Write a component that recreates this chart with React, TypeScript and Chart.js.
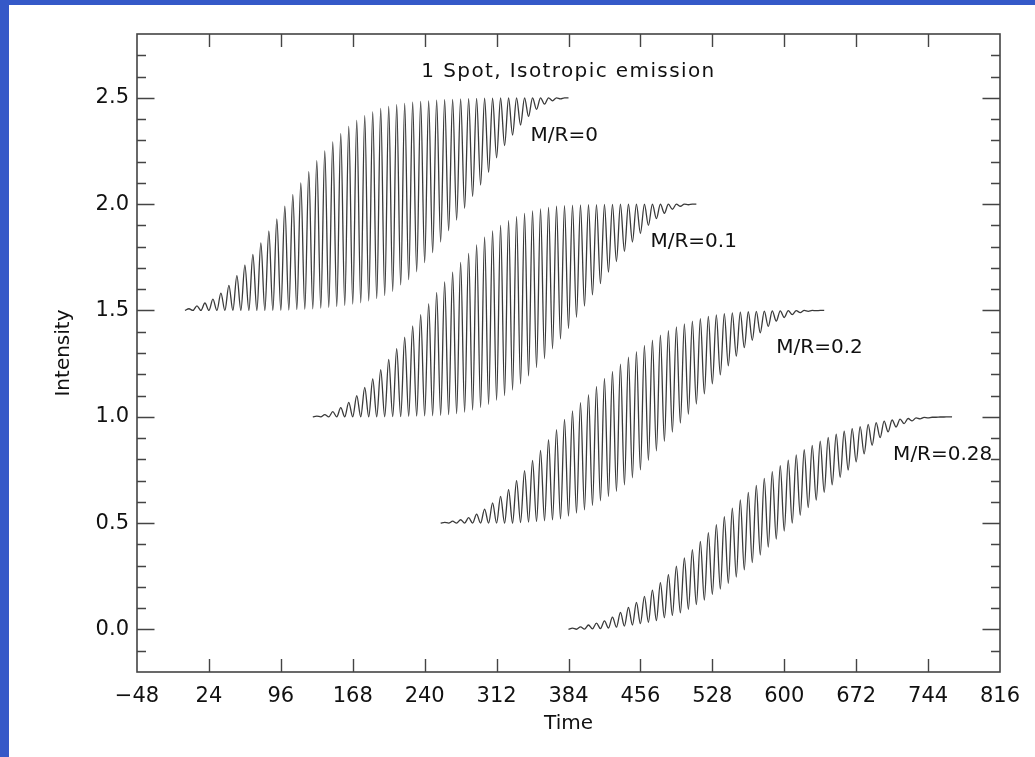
import React, { useEffect, useRef } from 'react';
import { Chart, registerables } from 'chart.js';

Chart.register(...registerables);

// ---------------- data ----------------
const chartTitle = '1 Spot, Isotropic emission';
const seriesNames = ['M/R=0', 'M/R=0.1', 'M/R=0.2', 'M/R=0.28'];
const seriesStart = [0, 128, 256, 384];
const pulsePeriod = 8;

// M/R = 0
const peaks0 = [1.508, 1.522, 1.535, 1.553, 1.582, 1.618, 1.664, 1.713, 1.764, 1.818, 1.874, 1.930, 1.990, 2.046, 2.100, 2.153, 2.205, 2.250, 2.293, 2.332, 2.365, 2.394, 2.416, 2.434, 2.450, 2.460, 2.468, 2.474, 2.479, 2.483, 2.486, 2.489, 2.491, 2.493, 2.495, 2.496, 2.497, 2.498, 2.498, 2.499, 2.499, 2.500, 2.500, 2.500, 2.500, 2.500, 2.500, 2.500];
const troughs0 = [1.500, 1.500, 1.500, 1.500, 1.500, 1.500, 1.500, 1.500, 1.500, 1.500, 1.500, 1.500, 1.500, 1.502, 1.504, 1.506, 1.508, 1.511, 1.515, 1.519, 1.524, 1.530, 1.536, 1.545, 1.556, 1.570, 1.590, 1.620, 1.645, 1.682, 1.725, 1.772, 1.822, 1.875, 1.925, 1.980, 2.036, 2.090, 2.150, 2.218, 2.275, 2.325, 2.372, 2.413, 2.446, 2.470, 2.486, 2.495, 2.500];

// M/R = 0.1
const peaks1 = [1.003, 1.010, 1.024, 1.043, 1.068, 1.100, 1.138, 1.178, 1.222, 1.270, 1.320, 1.374, 1.427, 1.480, 1.532, 1.585, 1.634, 1.680, 1.726, 1.768, 1.808, 1.845, 1.874, 1.900, 1.922, 1.941, 1.956, 1.968, 1.978, 1.985, 1.990, 1.993, 1.995, 1.996, 1.997, 1.998, 1.999, 1.999, 2.000, 2.000, 2.000, 2.000, 2.000, 2.000, 2.000, 2.000, 2.000, 2.000];
const troughs1 = [1.000, 1.000, 1.000, 1.000, 1.000, 1.000, 1.000, 1.000, 1.000, 1.000, 1.001, 1.001, 1.002, 1.003, 1.004, 1.005, 1.007, 1.010, 1.015, 1.022, 1.032, 1.044, 1.059, 1.078, 1.100, 1.126, 1.155, 1.192, 1.232, 1.274, 1.320, 1.366, 1.415, 1.468, 1.520, 1.573, 1.626, 1.680, 1.730, 1.778, 1.822, 1.862, 1.900, 1.932, 1.957, 1.976, 1.990, 1.997, 2.000];

// M/R = 0.2
const peaks2 = [0.504, 0.509, 0.516, 0.526, 0.542, 0.566, 0.595, 0.626, 0.658, 0.700, 0.747, 0.795, 0.842, 0.892, 0.940, 0.988, 1.028, 1.067, 1.104, 1.143, 1.180, 1.213, 1.248, 1.281, 1.306, 1.336, 1.360, 1.384, 1.405, 1.423, 1.437, 1.450, 1.462, 1.472, 1.479, 1.485, 1.489, 1.492, 1.494, 1.496, 1.497, 1.498, 1.498, 1.499, 1.499, 1.500, 1.500, 1.500];
const troughs2 = [0.500, 0.500, 0.500, 0.500, 0.500, 0.500, 0.500, 0.500, 0.500, 0.500, 0.503, 0.505, 0.508, 0.511, 0.515, 0.520, 0.533, 0.547, 0.562, 0.583, 0.605, 0.625, 0.650, 0.680, 0.713, 0.750, 0.795, 0.840, 0.885, 0.928, 0.970, 1.012, 1.060, 1.108, 1.155, 1.197, 1.240, 1.285, 1.325, 1.360, 1.395, 1.425, 1.450, 1.467, 1.480, 1.490, 1.496, 1.499, 1.500];

// M/R = 0.28
const peaks3 = [0.006, 0.012, 0.021, 0.030, 0.040, 0.058, 0.080, 0.104, 0.127, 0.156, 0.185, 0.220, 0.258, 0.298, 0.336, 0.375, 0.414, 0.455, 0.493, 0.530, 0.570, 0.609, 0.645, 0.677, 0.710, 0.742, 0.770, 0.796, 0.821, 0.845, 0.866, 0.886, 0.903, 0.918, 0.932, 0.944, 0.954, 0.964, 0.973, 0.980, 0.985, 0.989, 0.992, 0.995, 0.997, 0.998, 0.999, 1.000];
const troughs3 = [0.000, 0.001, 0.002, 0.003, 0.004, 0.007, 0.011, 0.016, 0.021, 0.027, 0.034, 0.042, 0.055, 0.066, 0.078, 0.095, 0.117, 0.138, 0.165, 0.190, 0.217, 0.246, 0.280, 0.314, 0.350, 0.387, 0.425, 0.463, 0.500, 0.537, 0.573, 0.608, 0.645, 0.680, 0.715, 0.750, 0.788, 0.826, 0.866, 0.902, 0.929, 0.952, 0.968, 0.981, 0.990, 0.995, 0.998, 0.999, 1.000];

const seriesPeaks = [peaks0, peaks1, peaks2, peaks3];
const seriesTroughs = [troughs0, troughs1, troughs2, troughs3];

const xTickValues = [-48, 24, 96, 168, 240, 312, 384, 456, 528, 600, 672, 744, 816];
const yTickValues = [0.0, 0.5, 1.0, 1.5, 2.0, 2.5];
const yMinorTickValues = [-0.1, 0.1, 0.2, 0.3, 0.4, 0.6, 0.7, 0.8, 0.9, 1.1, 1.2, 1.3, 1.4, 1.6, 1.7, 1.8, 1.9, 2.1, 2.2, 2.3, 2.4, 2.6, 2.7];
const X_MIN = -48;
const X_MAX = 816;
const Y_MIN = -0.2;
const Y_MAX = 2.8;

// label placement (data coordinates of the left/middle of each label)
const labelAnchors = [
  { t: 346, v: 2.32 },
  { t: 466, v: 1.825 },
  { t: 592, v: 1.325 },
  { t: 709, v: 0.823 },
];

// ---------------- styles ----------------
const FONT = 'DejaVu Sans';
const TEXT_COLOR = '#111111';
const AXIS_COLOR = '#444444';
const LINE_COLOR = '#3a3a3a';
const BLUE = '#3559c8';

function buildPoints(i: number) {
  const pts: { x: number; y: number }[] = [];
  const tr = seriesTroughs[i];
  const pk = seriesPeaks[i];
  for (let k = 0; k < tr.length; k++) {
    pts.push({ x: seriesStart[i] + pulsePeriod * k, y: tr[k] });
    if (k < pk.length) pts.push({ x: seriesStart[i] + pulsePeriod * k + pulsePeriod / 2, y: pk[k] });
  }
  return pts;
}

const framePlugin = {
  id: 'idlFrame',
  afterDraw(chart: any) {
    const { ctx, chartArea: a, scales } = chart;
    const x = scales.x;
    const y = scales.y;
    ctx.save();
    ctx.strokeStyle = AXIS_COLOR;
    ctx.lineWidth = 1.6;
    ctx.strokeRect(a.left, a.top, a.right - a.left, a.bottom - a.top);
    ctx.beginPath();
    const xLen = 13;
    for (const v of xTickValues) {
      if (v <= X_MIN || v >= X_MAX) continue;
      const px = Math.round(x.getPixelForValue(v)) + 0.5;
      ctx.moveTo(px, a.bottom);
      ctx.lineTo(px, a.bottom - xLen);
      ctx.moveTo(px, a.top);
      ctx.lineTo(px, a.top + xLen);
    }
    const majLen = 17.5;
    for (const v of yTickValues) {
      const py = Math.round(y.getPixelForValue(v)) + 0.5;
      ctx.moveTo(a.left, py);
      ctx.lineTo(a.left + majLen, py);
      ctx.moveTo(a.right, py);
      ctx.lineTo(a.right - majLen, py);
    }
    const minLen = 9;
    for (const v of yMinorTickValues) {
      const py = Math.round(y.getPixelForValue(v)) + 0.5;
      ctx.moveTo(a.left, py);
      ctx.lineTo(a.left + minLen, py);
      ctx.moveTo(a.right, py);
      ctx.lineTo(a.right - minLen, py);
    }
    ctx.lineWidth = 1.4;
    ctx.stroke();

    // title inside the plot
    ctx.fillStyle = TEXT_COLOR;
    ctx.font = `20px "${FONT}"`;
    try { (ctx as any).letterSpacing = '1.4px'; } catch (e) { /* ignore */ }
    ctx.textAlign = 'center';
    ctx.textBaseline = 'middle';
    ctx.fillText(chartTitle, (a.left + a.right) / 2, a.top + 38);
    try { (ctx as any).letterSpacing = '0px'; } catch (e) { /* ignore */ }

    // series labels
    ctx.textAlign = 'left';
    seriesNames.forEach((name, i) => {
      const an = labelAnchors[i];
      ctx.fillText(name, x.getPixelForValue(an.t), y.getPixelForValue(an.v));
    });
    ctx.restore();
  },
};

export default function App() {
  const canvasRef = useRef<HTMLCanvasElement | null>(null);

  useEffect(() => {
    const canvas = canvasRef.current;
    if (!canvas) return;
    const datasets = seriesNames.map((name, i) => ({
      label: name,
      data: buildPoints(i),
      borderColor: LINE_COLOR,
      borderWidth: 1.3,
      pointRadius: 0,
      fill: false,
      cubicInterpolationMode: 'monotone' as const,
    }));
    const chart = new Chart(canvas, {
      type: 'line',
      data: { datasets },
      options: {
        animation: false,
        responsive: false,
        maintainAspectRatio: false,
        devicePixelRatio: 1,
        layout: { padding: { left: 0, top: 34, right: 35, bottom: 0 } },
        plugins: {
          legend: { display: false },
          tooltip: { enabled: false },
        },
        scales: {
          x: {
            type: 'linear',
            min: X_MIN,
            max: X_MAX,
            afterBuildTicks: (s: any) => {
              s.ticks = xTickValues.map((v) => ({ value: v }));
            },
            afterFit: (s: any) => {
              s.height = 85;
            },
            grid: { display: false, drawTicks: false },
            border: { display: false },
            ticks: {
              autoSkip: false,
              maxRotation: 0,
              padding: 12,
              color: TEXT_COLOR,
              font: { family: FONT, size: 21 },
              callback: (v: any) => (Number(v) < 0 ? '\u2212' + Math.abs(Number(v)) : String(v)),
            },
            title: {
              display: true,
              text: 'Time',
              color: TEXT_COLOR,
              font: { family: FONT, size: 20 },
              padding: { top: 0, bottom: 21 },
            },
          },
          y: {
            type: 'linear',
            min: Y_MIN,
            max: Y_MAX,
            afterBuildTicks: (s: any) => {
              s.ticks = yTickValues.map((v) => ({ value: v }));
            },
            afterFit: (s: any) => {
              s.width = 137;
            },
            grid: { display: false, drawTicks: false },
            border: { display: false },
            ticks: {
              padding: 8,
              color: TEXT_COLOR,
              font: { family: FONT, size: 21 },
              callback: (v: any) => Number(v).toFixed(1),
            },
            title: {
              display: true,
              text: 'Intensity',
              color: TEXT_COLOR,
              font: { family: FONT, size: 20 },
              padding: { top: 52, bottom: 0 },
            },
          },
        },
      },
      plugins: [framePlugin],
    } as any);
    return () => chart.destroy();
  }, []);

  return (
    <div
      style={{
        position: 'fixed',
        left: 0,
        top: 0,
        width: 1035,
        height: 757,
        background: '#ffffff',
        overflow: 'hidden',
      }}
    >
      <canvas
        ref={canvasRef}
        width={1035}
        height={757}
        style={{ position: 'absolute', left: 0, top: 0, width: 1035, height: 757 }}
      />
      <div style={{ position: 'absolute', left: 0, top: 0, width: 9, height: 757, background: BLUE }} />
      <div style={{ position: 'absolute', left: 0, top: 0, width: 1035, height: 5, background: BLUE }} />
    </div>
  );
}
